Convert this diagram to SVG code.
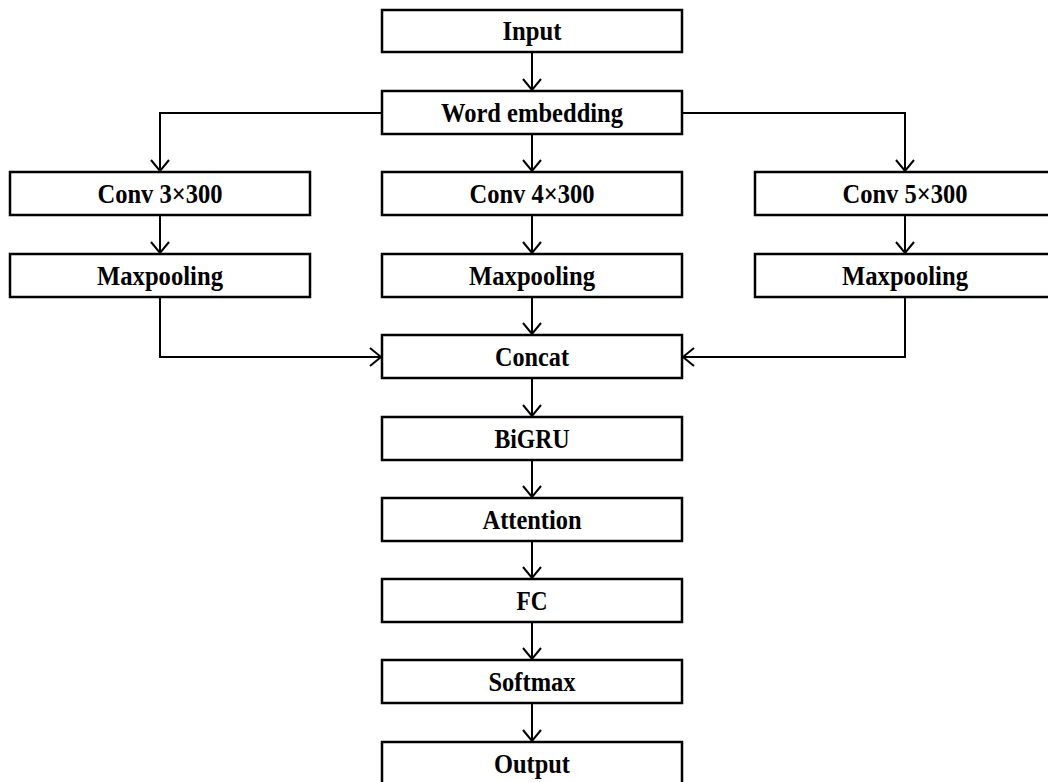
<svg xmlns="http://www.w3.org/2000/svg" width="1048" height="782" viewBox="0 0 1048 782">
<style>
.box{fill:#fff;stroke:#000;stroke-width:2.5}
.lbl{font-family:"Liberation Serif","Times New Roman",serif;font-weight:bold;font-size:28px;fill:#000;text-anchor:middle}
.con{fill:none;stroke:#000;stroke-width:2}
</style>
<defs>
<marker id="arr" markerUnits="userSpaceOnUse" markerWidth="24" markerHeight="24" viewBox="-12 -12 24 24" refX="0" refY="0" orient="auto">
<path d="M-11,-9 L0,0 L-11,9" fill="none" stroke="#000" stroke-width="2"/>
</marker>
</defs>
<rect width="1048" height="782" fill="#fff"/>
<g id="connectors">
<line class="con" x1="532" y1="52" x2="532" y2="90" marker-end="url(#arr)"/>
<line class="con" x1="532" y1="134" x2="532" y2="171" marker-end="url(#arr)"/>
<polyline class="con" points="382,113 160,113 160,171" marker-end="url(#arr)"/>
<polyline class="con" points="682,113 905,113 905,171" marker-end="url(#arr)"/>
<line class="con" x1="160" y1="215" x2="160" y2="253" marker-end="url(#arr)"/>
<line class="con" x1="532" y1="215" x2="532" y2="253" marker-end="url(#arr)"/>
<line class="con" x1="905" y1="215" x2="905" y2="253" marker-end="url(#arr)"/>
<polyline class="con" points="160,297 160,357 381,357" marker-end="url(#arr)"/>
<polyline class="con" points="905,297 905,357 683,357" marker-end="url(#arr)"/>
<line class="con" x1="532" y1="297" x2="532" y2="334" marker-end="url(#arr)"/>
<line class="con" x1="532" y1="378" x2="532" y2="416" marker-end="url(#arr)"/>
<line class="con" x1="532" y1="460" x2="532" y2="497" marker-end="url(#arr)"/>
<line class="con" x1="532" y1="541" x2="532" y2="578" marker-end="url(#arr)"/>
<line class="con" x1="532" y1="622" x2="532" y2="659" marker-end="url(#arr)"/>
<line class="con" x1="532" y1="703" x2="532" y2="741" marker-end="url(#arr)"/>
</g>
<g id="input"><rect class="box" x="382" y="10" width="300" height="42"/><text class="lbl" x="532" y="40" textLength="59" lengthAdjust="spacingAndGlyphs">Input</text></g>
<g id="word-embedding"><rect class="box" x="382" y="91" width="300" height="43"/><text class="lbl" x="532" y="122" textLength="182" lengthAdjust="spacingAndGlyphs">Word embedding</text></g>
<g id="conv3"><rect class="box" x="10" y="172" width="300" height="43"/><text class="lbl" x="160" y="203" textLength="125" lengthAdjust="spacingAndGlyphs">Conv 3×300</text></g>
<g id="conv4"><rect class="box" x="382" y="172" width="300" height="43"/><text class="lbl" x="532" y="203" textLength="125" lengthAdjust="spacingAndGlyphs">Conv 4×300</text></g>
<g id="conv5"><rect class="box" x="755" y="172" width="300" height="43"/><text class="lbl" x="905" y="203" textLength="125" lengthAdjust="spacingAndGlyphs">Conv 5×300</text></g>
<g id="maxpool1"><rect class="box" x="10" y="254" width="300" height="43"/><text class="lbl" x="160" y="285" textLength="126" lengthAdjust="spacingAndGlyphs">Maxpooling</text></g>
<g id="maxpool2"><rect class="box" x="382" y="254" width="300" height="43"/><text class="lbl" x="532" y="285" textLength="126" lengthAdjust="spacingAndGlyphs">Maxpooling</text></g>
<g id="maxpool3"><rect class="box" x="755" y="254" width="300" height="43"/><text class="lbl" x="905" y="285" textLength="126" lengthAdjust="spacingAndGlyphs">Maxpooling</text></g>
<g id="concat"><rect class="box" x="382" y="335" width="300" height="43"/><text class="lbl" x="532" y="366" textLength="74" lengthAdjust="spacingAndGlyphs">Concat</text></g>
<g id="bigru"><rect class="box" x="382" y="417" width="300" height="43"/><text class="lbl" x="532" y="448" textLength="75" lengthAdjust="spacingAndGlyphs">BiGRU</text></g>
<g id="attention"><rect class="box" x="382" y="498" width="300" height="43"/><text class="lbl" x="532" y="529" textLength="99" lengthAdjust="spacingAndGlyphs">Attention</text></g>
<g id="fc"><rect class="box" x="382" y="579" width="300" height="43"/><text class="lbl" x="532" y="610" textLength="31" lengthAdjust="spacingAndGlyphs">FC</text></g>
<g id="softmax"><rect class="box" x="382" y="660" width="300" height="43"/><text class="lbl" x="532" y="691" textLength="87" lengthAdjust="spacingAndGlyphs">Softmax</text></g>
<g id="output"><rect class="box" x="382" y="742" width="300" height="43"/><text class="lbl" x="532" y="773" textLength="76" lengthAdjust="spacingAndGlyphs">Output</text></g>
</svg>
